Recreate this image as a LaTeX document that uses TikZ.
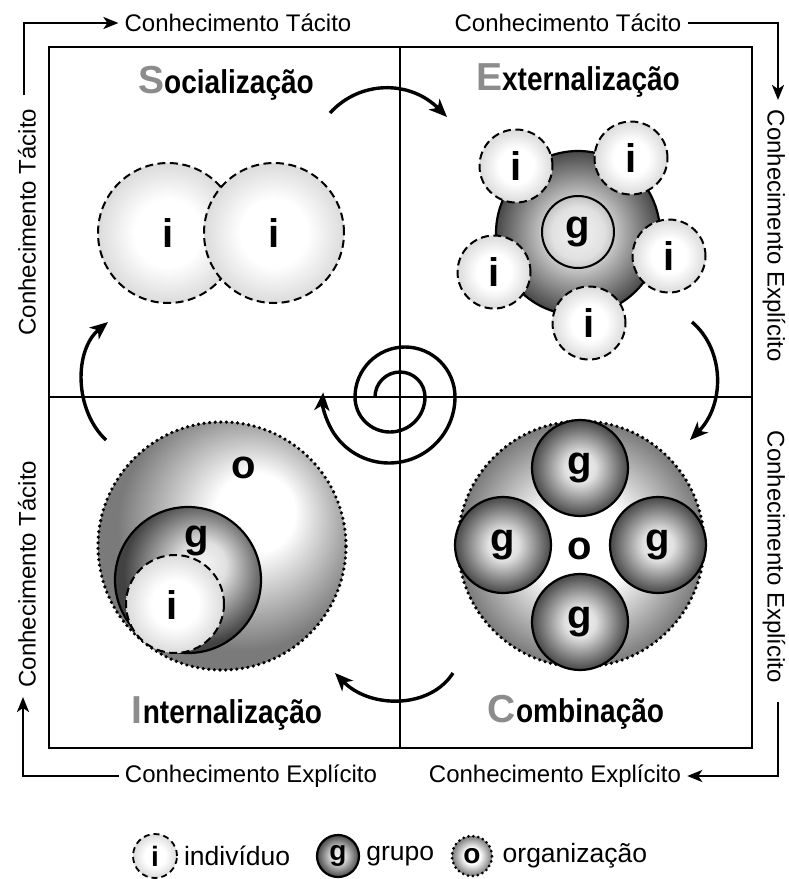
\documentclass[tikz,border=0pt]{standalone}
\usepackage{fontspec}
\setmainfont{Liberation Sans}
\newfontfamily\headfont[FakeStretch=0.85]{Liberation Sans}
\usetikzlibrary{arrows.meta}
\usetikzlibrary{positioning}
\definecolor{capgray}{HTML}{8C8C8C}
\pgfdeclareradialshading{ishade}{\pgfpoint{0bp}{0bp}}{color(0bp)=(white); color(12bp)=(white); color(25bp)=(black!14); color(50bp)=(black!14)}
\pgfdeclareradialshading{gshade}{\pgfpoint{0bp}{0bp}}{color(0bp)=(black!5); color(8bp)=(black!12); color(25bp)=(black!72); color(50bp)=(black!72)}
\pgfdeclareradialshading{gshadeoff}{\pgfpoint{6bp}{6bp}}{color(0bp)=(black!5); color(8bp)=(black!12); color(25bp)=(black!74); color(50bp)=(black!74)}
\pgfdeclareradialshading{oshade}{\pgfpoint{0bp}{0bp}}{color(0bp)=(white); color(10bp)=(white); color(25bp)=(black!52); color(50bp)=(black!52)}
\pgfdeclareradialshading{oshadeoff}{\pgfpoint{8bp}{8bp}}{color(0bp)=(white); color(8bp)=(white); color(25bp)=(black!52); color(50bp)=(black!52)}
\newcommand{\qtitle}[2]{{\bfseries\fontsize{39}{39}\selectfont\color{capgray}#1}{\headfont\bfseries\fontsize{33}{33}\selectfont#2}}

\begin{document}
\begin{tikzpicture}[x=1pt, y=-1pt,
    every node/.style={inner sep=0pt},
    axislbl/.style={font=\fontsize{24}{28}\selectfont, inner sep=6pt},
    ttl/.style={anchor=base},
    lbl/.style={font=\bfseries\fontsize{40}{40}\selectfont},
    icirc/.style={circle, draw, line width=2pt, dash pattern=on 8pt off 4.5pt, shade, shading=ishade, lbl},
    gcirc/.style={circle, draw, line width=2.2pt, shade, shading=gshade, lbl},
    ocirc/.style={circle, draw, line width=3.6pt, dash pattern=on 0pt off 5.6pt, line cap=round, shade, shading=oshade, lbl},
    flow/.style={line width=3.4pt, -{Stealth[length=18pt, width=15pt, inset=5pt]}},
    edge/.style={line width=2.4pt, -{Stealth[length=15pt, width=12pt, inset=4pt]}},
    legtxt/.style={font=\fontsize{26.5}{30}\selectfont}
]
    \useasboundingbox (0,0) rectangle (788,879);
    \fill[white] (0,0) rectangle (788,879);

    % Frame and axes
    \draw[line width=2.4pt] (49,47) rectangle (752,748);
    \draw[line width=2.4pt] (400,47) -- (400,748);
    \draw[line width=2.4pt] (49,397) -- (752,397);

    % Outer labels
    \node[axislbl] (tacTop1) at (238,23) {Conhecimento Tácito};
    \node[axislbl] (tacTop2) at (568,23) {Conhecimento Tácito};
    \node[axislbl, rotate=-90] (expRight1) at (774,236) {Conhecimento Explícito};
    \node[axislbl, rotate=-90] (expRight2) at (774,557) {Conhecimento Explícito};
    \node[axislbl] (expBot2) at (555,776) {Conhecimento Explícito};
    \node[axislbl] (expBot1) at (251,776) {Conhecimento Explícito};
    \node[axislbl, rotate=90] (tacLeft2) at (27,574) {Conhecimento Tácito};
    \node[axislbl, rotate=90] (tacLeft1) at (27,222) {Conhecimento Tácito};

    \coordinate (tl) at (24,95);
    \coordinate (tr) at (778,100);
    \coordinate (br) at (778,702);
    \coordinate (bl) at (23,697);
    \draw[edge] (tl) |- (tacTop1.west);
    \draw[edge] (tacTop2.east) -| (tr);
    \draw[edge] (br) |- (expBot2.east);
    \draw[edge] (expBot1.west) -| (bl);

    % Quadrant 1: Socializacao
    \node[ttl] (socT) at (226,93) {\qtitle{S}{ocialização}};
    \node[icirc, minimum size=140pt] (soc1) at (168,233) {i};
    \node[icirc, minimum size=140pt] (soc2) at (274,233) {i};

    % Quadrant 2: Externalizacao
    \node[ttl] (extT) at (578,90) {\qtitle{E}{xternalização}};
    \node[gcirc, minimum size=164pt] (extG) at (578,233) {};
    \node[circle, draw, line width=2pt, minimum size=72pt, lbl] (extg) at (578,232) {g};
    \node[icirc, minimum size=73pt] (ext1) at (516,166) {i};
    \node[icirc, minimum size=73pt] (ext2) at (631,158) {i};
    \node[icirc, minimum size=73pt] (ext3) at (494,272) {i};
    \node[icirc, minimum size=73pt] (ext4) at (669,256) {i};
    \node[icirc, minimum size=73pt] (ext5) at (589,323) {i};

    % Quadrant 3: Combinacao
    \node[ttl] (comT) at (576,722) {\qtitle{C}{ombinação}};
    \node[ocirc, minimum size=246pt] (comO) at (581,544) {};
    \node[lbl] (como) at (580,549) {o};
    \node[gcirc, minimum size=96pt] (comg1) at (580,468) {g};
    \node[gcirc, minimum size=96pt] (comg2) at (503,545) {g};
    \node[gcirc, minimum size=96pt] (comg3) at (658,545) {g};
    \node[gcirc, minimum size=96pt] (comg4) at (580,622) {g};

    % Quadrant 4: Internalizacao
    \node[ttl] (intT) at (227,723) {\qtitle{I}{nternalização}};
    \node[ocirc, shading=oshadeoff, minimum size=248pt] (intO) at (222,546) {};
    \node[gcirc, shading=gshadeoff, minimum size=146pt] (intG) at (188,580) {};
    \node[icirc, minimum size=98pt] (intI) at (175,604) {};
    \node[lbl] (into) at (244,468) {o};
    \node[lbl] (intg) at (197,541) {g};
    \node[lbl] (inti) at (172,605) {i};

    % Cycle arrows
    \coordinate (socOut) at (330,113);
    \coordinate (extIn) at (447,117);
    \coordinate (extOut) at (692,322);
    \coordinate (comIn) at (690,440);
    \coordinate (comOut) at (453,673);
    \coordinate (intIn) at (335,673);
    \coordinate (intOut) at (106,440);
    \coordinate (socIn) at (108,322);
    \draw[flow] (socOut) .. controls (360,80) and (410,80) .. (extIn);
    \draw[flow] (extOut) .. controls (725,350) and (725,405) .. (comIn);
    \draw[flow] (comOut) .. controls (430,709) and (370,709) .. (intIn);
    \draw[flow] (intOut) .. controls (74,410) and (74,350) .. (socIn);

    % Spiral
    \coordinate (spi) at (375,397);
    \draw[flow] (spi) arc[start angle=180, end angle=0, radius=25pt]
        arc[start angle=0, end angle=-180, radius=35pt]
        arc[start angle=180, end angle=0, radius=50pt]
        arc[start angle=0, end angle=-184, radius=66pt];

    % Legend
    \node[icirc, minimum size=44pt, line width=1.8pt, dash pattern=on 6pt off 4pt, font=\bfseries\fontsize{28}{28}\selectfont] (legI) at (155,856) {i};
    \node[legtxt, right=6pt of legI] (legItxt) {indivíduo};
    \node[gcirc, minimum size=42pt, font=\bfseries\fontsize{28}{28}\selectfont] (legG) at (338,856) {g};
    \node[legtxt, right=6pt of legG] (legGtxt) {grupo};
    \node[ocirc, minimum size=40pt, line width=3pt, dash pattern=on 0pt off 5pt, font=\bfseries\fontsize{28}{28}\selectfont] (legO) at (472,856) {o};
    \node[legtxt, right=9pt of legO] (legOtxt) {organização};
\end{tikzpicture}
\end{document}
